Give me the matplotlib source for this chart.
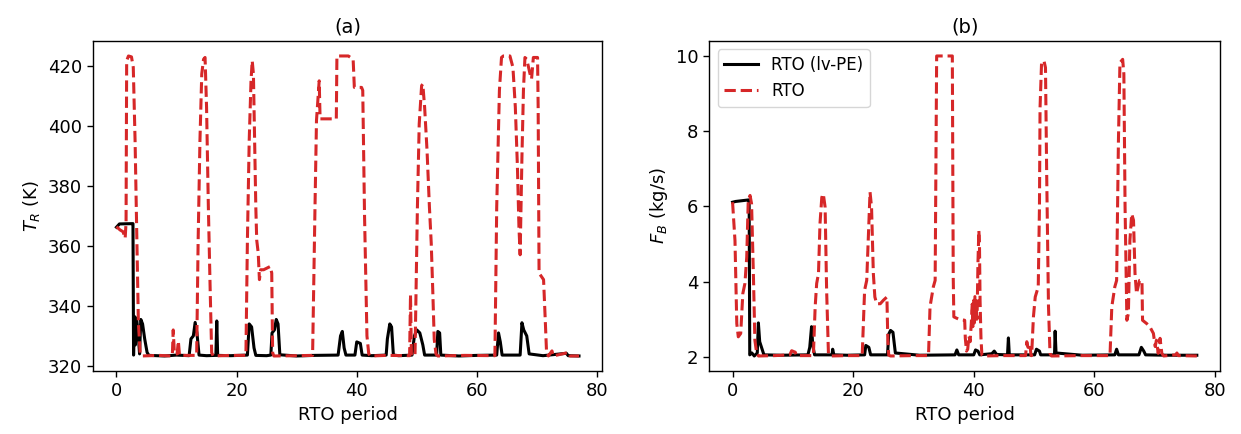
import matplotlib
matplotlib.use("Agg")
import matplotlib.pyplot as plt

# ============================================================
# DATA
# ============================================================

# (a) reactor temperature, RTO with lv-PE
t_a_lvpe = [0.0, 0.5, 2.6, 2.75, 2.85, 3.0, 3.15, 3.35, 3.6, 3.85, 4.05, 4.35, 4.7, 5.1, 5.4,
            8.0, 10.0, 12.1, 12.4, 12.8, 13.1, 13.4, 13.75, 15.0, 16.55, 16.7, 16.85, 19.0,
            21.8, 22.1, 22.5, 22.9, 23.2, 25.0, 25.7, 25.9, 26.3, 26.6, 26.9, 27.2, 30.0,
            33.0, 36.9, 37.3, 37.6, 37.9, 38.2, 39.7, 40.0, 40.6, 40.9, 42.5, 44.9, 45.1,
            45.5, 45.8, 46.1, 47.0, 49.2, 49.6, 50.0, 50.5, 51.0, 51.3, 53.3, 53.5, 53.8,
            54.0, 57.0, 60.0, 63.3, 63.6, 63.9, 64.2, 67.2, 67.5, 67.8, 68.3, 68.7, 71.0,
            74.9, 75.2, 77.0]
TR_lvpe = [366.3, 367.4, 367.5, 367.5, 323.6, 336.5, 327.0, 336.0, 331.0, 324.0, 335.5, 334.0,
           329.0, 324.5, 323.5, 323.3, 323.6, 323.4, 329.0, 330.0, 334.5, 331.0, 323.6, 323.4,
           323.5, 335.0, 323.5, 323.4, 323.6, 334.0, 333.0, 326.0, 323.5, 323.4, 323.6, 331.0,
           332.0, 335.5, 334.0, 323.7, 323.3, 323.5, 323.6, 330.0, 331.5, 326.0, 323.6, 323.6,
           328.0, 327.5, 323.6, 323.4, 323.6, 329.0, 334.0, 333.0, 323.6, 323.4, 323.6, 330.0,
           332.0, 331.0, 327.0, 323.6, 323.6, 331.5, 331.0, 323.6, 323.3, 323.5, 323.6, 331.0,
           328.0, 323.6, 323.6, 334.4, 332.0, 330.0, 324.0, 323.4, 324.2, 323.4, 323.3]

# (a) reactor temperature, plain RTO
t_a_rto = [0.0, 0.6, 1.1, 1.45, 1.6, 1.7, 2.0, 2.5, 2.8, 3.1, 3.4, 3.65, 3.95, 4.2, 7.0, 9.3,
           9.45, 9.65, 10.1, 10.3, 10.5, 13.35, 13.6, 13.9, 14.2, 14.5, 14.75, 15.0, 15.3,
           15.6, 15.85, 16.1, 19.0, 21.55, 21.8, 22.1, 22.4, 22.6, 22.8, 23.0, 23.2, 23.35,
           23.6, 23.8, 24.0, 24.5, 25.6, 25.85, 26.0, 26.2, 30.0, 32.65, 33.05, 33.3, 33.75,
           33.9, 36.6, 36.7, 38.6, 39.4, 39.6, 40.8, 41.0, 41.3, 41.7, 42.0, 42.3, 45.0, 48.8,
           48.95, 49.1, 49.7, 50.1, 50.4, 50.8, 51.0, 51.3, 51.7, 52.1, 52.4, 52.65, 52.9,
           53.2, 53.5, 58.0, 63.0, 63.3, 63.75, 64.1, 64.4, 65.5, 66.0, 66.4, 66.75, 67.0,
           67.2, 67.5, 67.75, 68.0, 68.3, 68.85, 69.1, 69.4, 70.1, 70.2, 70.35, 71.1, 71.4,
           71.6, 71.9, 72.5, 72.7, 75.3, 75.5, 77.0]
TR_rto = [366.5, 365.4, 364.8, 362.6, 368.0, 421.9, 423.5, 423.2, 419.7, 395.3, 362.0, 334.4,
          324.4, 323.3, 323.5, 323.3, 332.0, 324.0, 324.0, 328.3, 323.5, 323.5, 362.0, 395.3,
          417.5, 422.4, 423.0, 406.4, 373.0, 345.5, 324.4, 323.3, 323.5, 323.5, 362.0, 395.3,
          415.2, 421.9, 417.5, 395.3, 373.0, 362.0, 357.7, 348.8, 352.1, 352.1, 353.2, 351.0,
          324.4, 323.3, 323.4, 323.5, 373.0, 402.0, 415.2, 402.5, 402.5, 423.5, 423.5, 422.4,
          413.0, 413.0, 412.0, 370.0, 330.0, 324.0, 323.3, 323.5, 323.4, 343.8, 323.5, 323.5,
          373.0, 400.8, 413.6, 414.1, 406.4, 392.0, 373.0, 361.0, 345.5, 328.9, 323.9, 323.3,
          323.5, 323.4, 373.0, 412.0, 423.0, 423.5, 423.5, 419.7, 406.4, 386.4, 366.5, 357.1,
          389.8, 412.0, 423.0, 422.4, 417.5, 415.8, 423.0, 423.0, 406.4, 351.0, 348.8, 334.4,
          324.4, 323.3, 325.0, 323.3, 324.5, 323.3, 323.3]

# (b) feed flow, RTO with lv-PE
t_b_lvpe = [0.0, 0.5, 2.6, 2.75, 2.85, 3.2, 3.6, 4.1, 4.28, 4.5, 4.9, 5.2, 8.0, 12.5, 12.8,
            13.1, 13.3, 13.6, 16.5, 16.6, 16.8, 19.0, 21.9, 22.1, 22.6, 22.9, 25.7, 25.9, 26.2,
            26.6, 27.0, 31.0, 36.9, 37.2, 37.5, 40.0, 40.3, 40.7, 41.0, 43.0, 43.4, 43.8, 45.6,
            45.75, 45.9, 50.1, 50.4, 50.9, 51.1, 53.4, 53.5, 53.65, 58.0, 63.4, 63.7, 64.0,
            67.4, 67.8, 68.2, 68.5, 72.0, 77.0]
FB_lvpe = [6.11, 6.13, 6.17, 6.17, 2.05, 2.10, 2.02, 2.10, 2.90, 2.40, 2.20, 2.05, 2.04, 2.05,
           2.25, 2.80, 2.30, 2.05, 2.05, 2.20, 2.05, 2.04, 2.05, 2.30, 2.25, 2.05, 2.05, 2.60,
           2.70, 2.65, 2.10, 2.04, 2.05, 2.18, 2.05, 2.05, 2.18, 2.15, 2.05, 2.08, 2.15, 2.06,
           2.05, 2.50, 2.05, 2.05, 2.20, 2.15, 2.05, 2.05, 2.68, 2.10, 2.04, 2.05, 2.20, 2.05,
           2.05, 2.25, 2.15, 2.05, 2.04, 2.04]

# (b) feed flow, plain RTO
t_b_rto = [0.0, 0.4, 0.7, 0.95, 1.35, 1.7, 2.05, 2.35, 2.6, 2.9, 3.15, 3.45, 3.7, 4.0, 4.3,
           7.0, 9.5, 9.8, 10.4, 10.6, 13.4, 13.7, 13.95, 14.25, 14.5, 14.8, 15.05, 15.35, 15.6,
           15.9, 16.2, 19.0, 21.5, 21.9, 22.25, 22.5, 22.8, 23.05, 23.35, 23.6, 23.9, 24.5,
           25.0, 25.6, 25.75, 25.9, 26.2, 30.0, 32.5, 32.75, 33.3, 33.6, 33.85, 36.45, 36.55,
           36.6, 36.7, 37.5, 38.5, 38.6, 38.8, 39.0, 39.2, 39.4, 39.6, 39.75, 39.85, 40.0, 40.1,
           40.2, 40.3, 40.4, 40.55, 40.7, 40.85, 40.95, 41.05, 41.2, 41.35, 41.6, 45.0, 48.6,
           48.8, 49.0, 49.3, 49.5, 49.6, 49.9, 50.2, 50.7, 50.9, 51.0, 51.25, 51.65, 51.9, 52.1,
           52.4, 52.65, 52.9, 58.0, 62.6, 62.9, 63.4, 63.7, 64.0, 64.25, 64.7, 64.9, 65.1, 65.4,
           65.65, 65.9, 66.2, 66.5, 66.75, 67.0, 67.5, 67.9, 68.0, 68.7, 69.2, 69.8, 70.1, 70.3,
           70.6, 70.9, 71.2, 71.5, 73.5, 73.7, 73.9, 77.0]
FB_rto = [6.11, 5.09, 2.88, 2.53, 2.62, 3.68, 3.95, 4.65, 6.16, 6.29, 6.07, 4.21, 2.44, 2.09,
          2.02, 2.03, 2.05, 2.16, 2.12, 2.03, 2.03, 3.33, 3.95, 4.21, 5.54, 6.24, 6.33, 5.98,
          3.77, 2.09, 2.02, 2.03, 2.03, 3.77, 4.03, 5.09, 6.38, 5.98, 4.21, 3.59, 3.41, 3.41,
          3.50, 3.59, 2.44, 2.04, 2.02, 2.03, 2.03, 3.33, 3.86, 4.03, 10.0, 10.0, 6.0, 4.1,
          3.06, 3.0, 2.97, 2.5, 2.15, 2.2, 2.55, 2.4, 2.9, 3.4, 2.8, 3.5, 2.9, 3.6, 3.0, 3.3,
          3.0, 4.5, 5.36, 5.0, 3.5, 2.5, 2.05, 2.02, 2.03, 2.03, 2.4, 2.25, 2.35, 2.03, 2.03,
          3.06, 3.59, 3.86, 5.98, 8.63, 9.82, 9.87, 9.69, 6.86, 3.33, 2.09, 2.02, 2.03, 2.03,
          3.33, 3.86, 4.03, 7.75, 9.82, 9.91, 9.52, 5.98, 2.97, 3.15, 5.09, 5.8, 5.63, 4.21,
          3.68, 4.03, 4.03, 2.97, 2.88, 2.8, 2.62, 2.27, 2.44, 2.09, 2.49, 2.09, 2.02, 2.05,
          2.1, 2.03, 2.02]

RED = "#d62728"

# ============================================================
# FIGURE
# ============================================================

plt.rcParams["font.size"] = 13

fig = plt.figure(figsize=(12.41, 4.34), dpi=100)
ax_a = fig.add_axes([0.0752, 0.1452, 0.4100, 0.7604])
ax_b = fig.add_axes([0.5716, 0.1452, 0.4115, 0.7604])

ax_a.plot(t_a_lvpe, TR_lvpe, color="k", lw=2.2, label="RTO (lv-PE)")
ax_a.plot(t_a_rto, TR_rto, color=RED, lw=2.2, ls="--", label="RTO")
ax_a.set_xlabel("RTO period")
ax_a.set_ylabel("$T_R$ (K)")
ax_a.set_title("(a)", fontsize=14)
ax_a.set_yticks([320, 340, 360, 380, 400, 420])

ax_b.plot(t_b_lvpe, FB_lvpe, color="k", lw=2.2, label="RTO (lv-PE)")
ax_b.plot(t_b_rto, FB_rto, color=RED, lw=2.2, ls="--", label="RTO")
ax_b.set_xlabel("RTO period")
ax_b.set_ylabel("$F_B$ (kg/s)")
ax_b.set_title("(b)", fontsize=14)
ax_b.set_yticks([2, 4, 6, 8, 10])
ax_b.legend(loc="upper left", fontsize=12)

for ax in (ax_a, ax_b):
    ax.set_xticks([0, 20, 40, 60, 80])
    ax.tick_params(labelsize=13, length=4.5, width=1)
    for s in ax.spines.values():
        s.set_linewidth(1.0)

fig.savefig("out.png", dpi=100)
